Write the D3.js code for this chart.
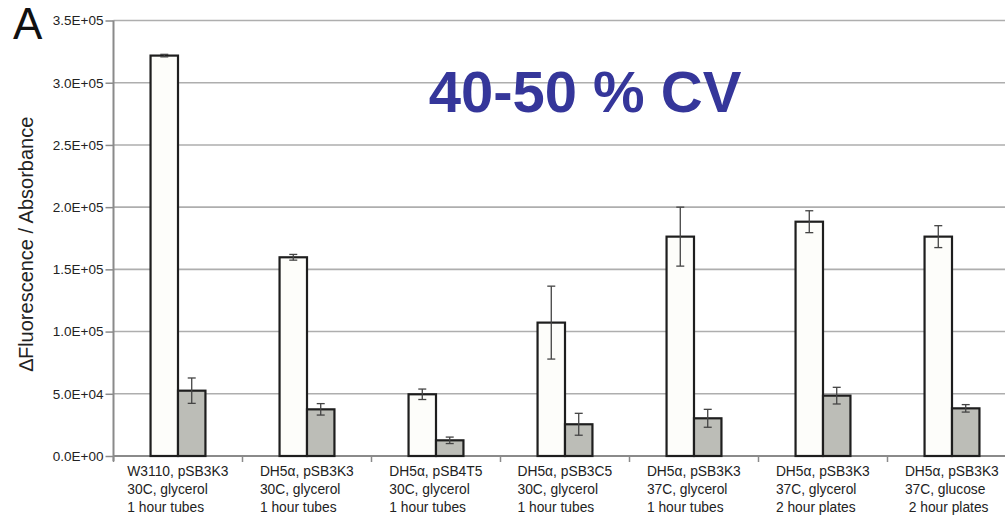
<!DOCTYPE html>
<html>
<head>
<meta charset="utf-8">
<script src="https://cdn.jsdelivr.net/npm/d3@7"></script>
<style>
  html, body { margin: 0; padding: 0; background: #fff; }
  svg { display: block; font-family: "Liberation Sans", Arial, sans-serif; }
</style>
</head>
<body>
<svg id="chart" width="1005" height="517"></svg>
<script>
// ---- data ----
const categories = [
  ["W3110, pSB3K3", "30C, glycerol", "1 hour tubes"],
  ["DH5α, pSB3K3", "30C, glycerol", "1 hour tubes"],
  ["DH5α, pSB4T5", "30C, glycerol", "1 hour tubes"],
  ["DH5α, pSB3C5", "30C, glycerol", "1 hour tubes"],
  ["DH5α, pSB3K3", "37C, glycerol", "1 hour tubes"],
  ["DH5α, pSB3K3", "37C, glycerol", "2 hour plates"],
  ["DH5α, pSB3K3", "37C, glucose", " 2 hour plates"]
];
const seriesNames = ["open", "shaded"];
const openValues   = [321800, 159700, 49600, 107200, 176300, 188300, 176300];
const openErrors   = [1000,   2300,   4200,  29300,  23700,  8800,   8800];
const shadedValues = [52500,  37500,  12600, 25500,  30300,  48500,  38300];
const shadedErrors = [10200,  4600,   2600,  8800,   7200,   6700,   3000];
const yTicks = [0, 50000, 100000, 150000, 200000, 250000, 300000, 350000];
const yTickLabels = ["0.0E+00", "5.0E+04", "1.0E+05", "1.5E+05", "2.0E+05", "2.5E+05", "3.0E+05", "3.5E+05"];
const yAxisTitle = "\u2206Fluorescence / Absorbance";
const overlayText = "40-50 % CV";
const panelLetter = "A";

// ---- layout ----
const svg = d3.select("#chart");
const left = 113.5, step = 129;
const yTop = 20.5, yBottom = 456;

const idx = d3.range(categories.length);
const x0 = d3.scaleBand().domain(idx).range([left, left + step * categories.length]).padding(0);
const x1 = d3.scaleBand().domain(seriesNames).range([0, x0.bandwidth()]).paddingInner(0).paddingOuter(1.35);
const y = d3.scaleLinear().domain([0, 350000]).range([yBottom, yTop]);

// gridlines
svg.append("g").selectAll("line").data(yTicks.filter(d => d > 0)).join("line")
  .attr("x1", left).attr("x2", 1005)
  .attr("y1", d => y(d)).attr("y2", d => y(d))
  .attr("stroke", "#aeaeae").attr("stroke-width", 1.6);

// y axis
const yAxis = d3.axisLeft(y).tickValues(yTicks)
  .tickFormat((d, i) => yTickLabels[i]).tickSize(8).tickPadding(2);
const gy = svg.append("g").attr("transform", `translate(${left},0)`).call(yAxis);
gy.select(".domain").remove();
gy.selectAll(".tick line").attr("stroke", "#8a8a8a").attr("stroke-width", 1.5);
gy.selectAll(".tick text").attr("fill", "#222").style("font-size", "13.5px")
  .style("font-family", "'Liberation Sans', Arial, sans-serif");
svg.append("line").attr("x1", left).attr("x2", left).attr("y1", yTop).attr("y2", yBottom + 5)
  .attr("stroke", "#8a8a8a").attr("stroke-width", 2);

// x axis
const xTickPos = d3.range(categories.length + 1).map(i => left + i * step);
svg.append("line").attr("x1", left).attr("x2", 1005).attr("y1", yBottom).attr("y2", yBottom)
  .attr("stroke", "#8a8a8a").attr("stroke-width", 2);
svg.append("g").selectAll("line").data(xTickPos).join("line")
  .attr("x1", d => d).attr("x2", d => d).attr("y1", yBottom).attr("y2", yBottom + 6)
  .attr("stroke", "#8a8a8a").attr("stroke-width", 1.5);

// bars
const groups = svg.append("g").selectAll("g").data(idx).join("g")
  .attr("transform", i => `translate(${x0(i)},0)`);
const barData = i => [
  {s: "open", v: openValues[i], e: openErrors[i]},
  {s: "shaded", v: shadedValues[i], e: shadedErrors[i]}
];
groups.selectAll("rect").data(barData).join("rect")
  .attr("x", d => x1(d.s)).attr("width", x1.bandwidth())
  .attr("y", d => y(d.v)).attr("height", d => yBottom - y(d.v))
  .attr("fill", d => d.s === "open" ? "#fdfdfa" : "#bcbdb7")
  .attr("stroke", "#1e1e1e").attr("stroke-width", 2.2);

// error bars
const eb = groups.selectAll("g.err").data(barData).join("g").attr("class", "err")
  .attr("transform", d => `translate(${x1(d.s) + x1.bandwidth() / 2},0)`);
eb.append("line").attr("x1", 0).attr("x2", 0)
  .attr("y1", d => y(d.v + d.e)).attr("y2", d => y(d.v - d.e))
  .attr("stroke", "#444").attr("stroke-width", 1.3);
eb.append("line").attr("x1", -4).attr("x2", 4)
  .attr("y1", d => y(d.v + d.e)).attr("y2", d => y(d.v + d.e))
  .attr("stroke", "#444").attr("stroke-width", 1.3);
eb.append("line").attr("x1", -4).attr("x2", 4)
  .attr("y1", d => y(d.v - d.e)).attr("y2", d => y(d.v - d.e))
  .attr("stroke", "#444").attr("stroke-width", 1.3);

// x labels (multi-line, left aligned block centered in band)
const lab = svg.append("g").selectAll("text").data(idx).join("text")
  .style("font-size", "13.8px").attr("fill", "#222")
  .attr("xml:space", "preserve").style("white-space", "pre");
lab.each(function(i) {
  const t = d3.select(this);
  categories[i].forEach((line, k) => {
    t.append("tspan").attr("x", 0).attr("y", 476 + k * 18).text(line);
  });
  const w = this.getBBox().width;
  const xs = x0(i) + x0.bandwidth() / 2 - w / 2;
  t.selectAll("tspan").attr("x", xs);
});

// y-axis title
svg.append("text")
  .attr("transform", `translate(33,244) rotate(-90)`)
  .attr("text-anchor", "middle").style("font-size", "20px").attr("fill", "#222")
  .text(yAxisTitle);

// overlay text
svg.append("text").attr("x", 585).attr("y", 111.5).attr("text-anchor", "middle")
  .style("font-size", "58px").style("font-weight", "bold").attr("fill", "#35369a")
  .text(overlayText);

// panel letter
svg.append("text").attr("x", 13).attr("y", 39)
  .style("font-size", "44px").attr("fill", "#111").text(panelLetter);
</script>
</body>
</html>
